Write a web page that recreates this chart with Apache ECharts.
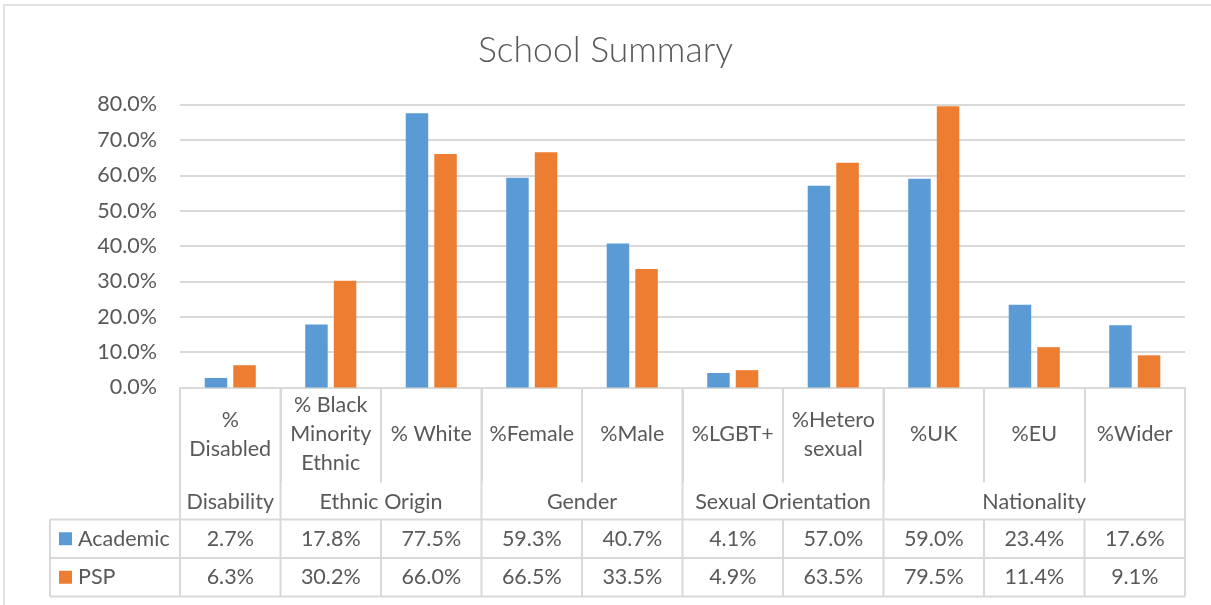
<!DOCTYPE html>
<html>
<head>
<meta charset="utf-8">
<script src="https://cdn.jsdelivr.net/npm/echarts@6/dist/echarts.min.js"></script>
<style>
  html, body { margin: 0; padding: 0; background: #fff; }
  #chart { width: 1211px; height: 605px; }
</style>
</head>
<body>
<div id="chart"></div>
<script>
// Category labels (inner level) and their grouping (outer level)
const categories = ['%\nDisabled', '% Black\nMinority\nEthnic', '% White', '%Female', '%Male',
                    '%LGBT+', '%Hetero\nsexual', '%UK', '%EU', '%Wider'];
const groups = ['Disability', 'Ethnic Origin', 'Gender', 'Sexual Orientation', 'Nationality'];
const groupSizes = [1, 2, 2, 2, 3];

// Series values (percent)
const seriesNames = ['Academic', 'PSP'];
const academic = [2.7, 17.8, 77.5, 59.3, 40.7, 4.1, 57.0, 59.0, 23.4, 17.6];
const psp = [6.3, 30.2, 66.0, 66.5, 33.5, 4.9, 63.5, 79.5, 11.4, 9.1];

// Value axis range
const yMin = 0, yMax = 80, yStep = 10;

const FONT = 'Lato';
const FS = 21.5;
const TEXT = '#595959';
const LINE = '#d9d9d9';
const COLORS = ['#5B9BD5', '#ED7D31'];
const fmt = v => v.toFixed(1) + '%';

const chart = echarts.init(document.getElementById('chart'), null, { renderer: 'canvas' });

const option = {
  animation: false,
  backgroundColor: '#fff',
  title: {
    text: 'School Summary',
    left: 'center',
    top: 28,
    textStyle: { fontFamily: FONT, fontWeight: 300, fontSize: 35.5, color: TEXT }
  },
  grid: { left: 180, right: 26, top: 104.5, bottom: 217.5, containLabel: false },
  xAxis: {
    type: 'category',
    data: categories,
    axisLine: { show: true, lineStyle: { color: LINE, width: 2 } },
    axisTick: { show: true, interval: 0, length: 95, lineStyle: { color: LINE, width: 2 } },
    axisLabel: {
      interval: 0,
      margin: 47,
      verticalAlign: 'middle',
      fontFamily: FONT,
      fontSize: FS,
      lineHeight: 29,
      color: TEXT
    }
  },
  yAxis: {
    type: 'value',
    min: yMin,
    max: yMax,
    interval: yStep,
    axisLine: { show: false },
    axisTick: { show: false },
    splitLine: { lineStyle: { color: LINE, width: 2 } },
    axisLabel: { formatter: fmt, margin: 23, fontFamily: FONT, fontSize: FS, color: TEXT }
  },
  series: [
    { name: seriesNames[0], type: 'bar', data: academic, barWidth: 22.5, barGap: '27%',
      itemStyle: { color: COLORS[0] } },
    { name: seriesNames[1], type: 'bar', data: psp, barWidth: 22.5, barGap: '27%',
      itemStyle: { color: COLORS[1] } }
  ]
};

chart.setOption(option);

// Multi-level axis groups and data table, laid out from the category axis
function buildTable() {
  const n = categories.length;
  const c0 = chart.convertToPixel({ xAxisIndex: 0 }, 0);
  const c1 = chart.convertToPixel({ xAxisIndex: 0 }, 1);
  const step = c1 - c0;
  const edge = i => c0 - step / 2 + i * step;
  const axisY = chart.convertToPixel({ yAxisIndex: 0 }, yMin);
  const groupTop = axisY + 95;       // end of inner-level cells
  const tableTop = axisY + 132;      // top of data table
  const rowH = 38.5;
  const tableLeft = 50;
  const right = edge(n);
  const els = [];
  const line = (x1, y1, x2, y2) => els.push({
    type: 'line', shape: { x1, y1, x2, y2 }, style: { stroke: LINE, lineWidth: 2 }, silent: true
  });
  const text = (t, x, y, align) => els.push({
    type: 'text', x, y,
    style: { text: t, fill: TEXT, font: FS + 'px ' + FONT, align: align || 'center', verticalAlign: 'middle' },
    silent: true
  });

  // group boundaries and labels
  let start = 0;
  groups.forEach((g, gi) => {
    const end = start + groupSizes[gi];
    line(edge(start), axisY, edge(start), tableTop);
    text(g, (edge(start) + edge(end)) / 2, (groupTop + tableTop) / 2 + 1);
    start = end;
  });
  line(right, axisY, right, tableTop);

  // data table
  const rows = [academic, psp];
  for (let r = 0; r <= rows.length; r++) line(tableLeft, tableTop + r * rowH, right, tableTop + r * rowH);
  line(tableLeft, tableTop, tableLeft, tableTop + rows.length * rowH);
  for (let i = 0; i <= n; i++) line(edge(i), tableTop, edge(i), tableTop + rows.length * rowH);
  rows.forEach((vals, r) => {
    const cy = tableTop + r * rowH + rowH / 2;
    els.push({ type: 'rect', shape: { x: 59, y: cy - 6.5, width: 13, height: 13 },
               style: { fill: COLORS[r] }, silent: true });
    text(seriesNames[r], 78, cy, 'left');
    vals.forEach((v, i) => text(fmt(v), (edge(i) + edge(i + 1)) / 2, cy));
  });

  // outer chart border
  els.push({ type: 'rect', shape: { x: 4, y: 5, width: 1230, height: 640 },
             style: { fill: 'none', stroke: '#d9d9d9', lineWidth: 1.5 }, silent: true });

  chart.setOption({ graphic: { elements: els } });
}
buildTable();
</script>
</body>
</html>
